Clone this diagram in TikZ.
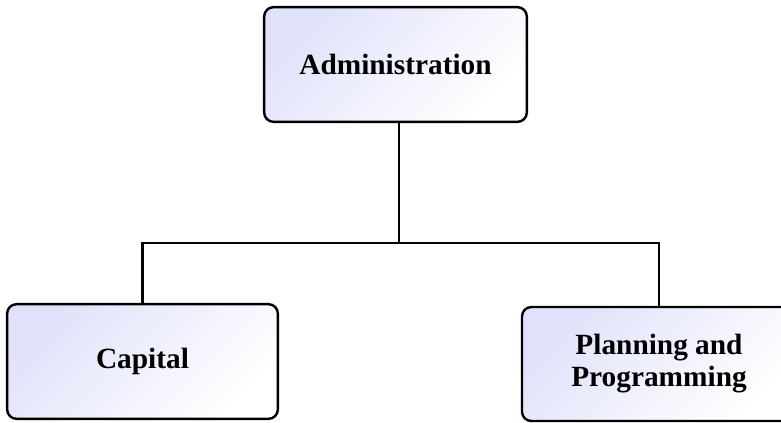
\documentclass[tikz,border=0pt]{standalone}
\usepackage{fontspec}
\setmainfont{Liberation Serif}
\definecolor{lavender}{RGB}{224,226,250}
\tikzset{
	unitbox/.style={draw=black,line width=1.8pt,rounded corners=7pt,
		top color=lavender,bottom color=white,shading angle=45,
		font=\fontsize{22}{24}\selectfont\bfseries,align=center,inner sep=0pt},
	link/.style={line width=1.8pt}
}
\begin{document}
\begin{tikzpicture}[x=0.75pt,y=-0.75pt]
		\useasboundingbox (0,0) rectangle (781,422);
		\clip (0,0) rectangle (781,422);
		\node[unitbox,minimum width=197pt,minimum height=86pt] (adm) at (395.5,64.5) {Administration};
		\node[unitbox,minimum width=203pt,minimum height=86pt] (cap) at (142.5,361.5) {Capital};
		\node[unitbox,minimum width=205.5pt,minimum height=85.5pt] (pln) at (659,364) {Planning and\\Programming};
		\coordinate (J) at (399,243);
		\draw[link] (adm.south -| J) -- (J);
		\draw[link] (cap.north) |- (J) -| (pln.north);
	\end{tikzpicture}
\end{document}
